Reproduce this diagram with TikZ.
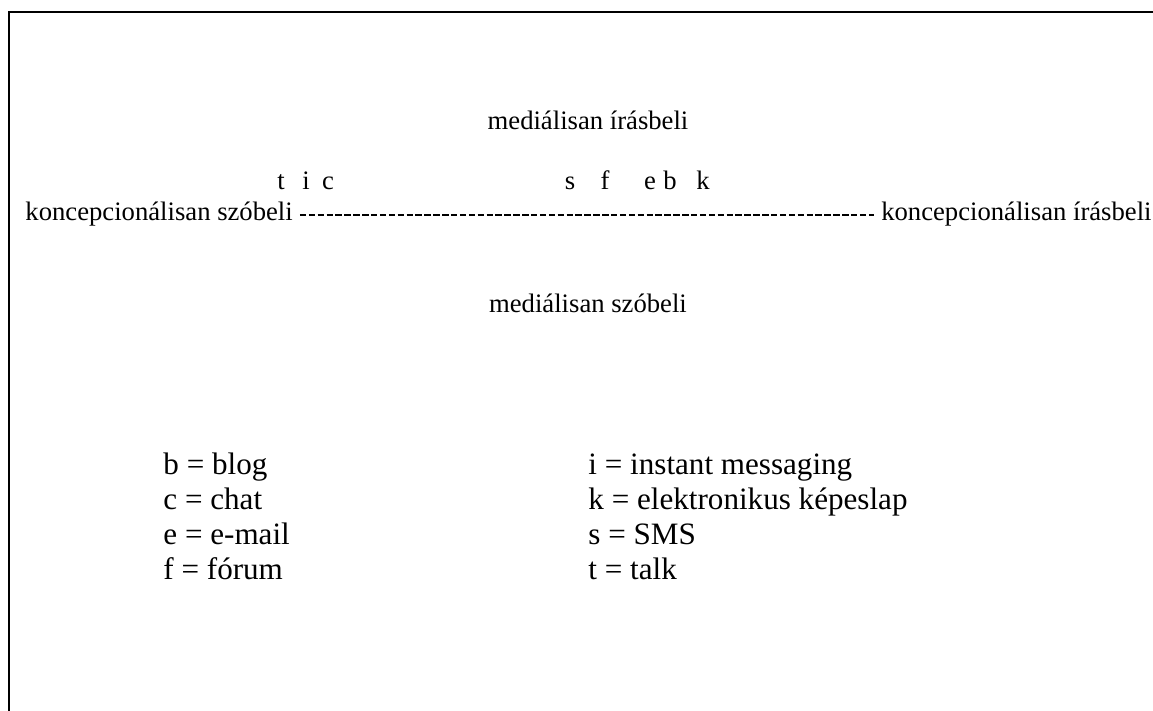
\documentclass[tikz,border=0pt]{standalone}
\usepackage{fontspec}
\setmainfont{Liberation Serif}
\begin{document}
\begin{tikzpicture}[x=0.45pt, y=-0.45pt,
 lbl/.style={inner sep=0pt, anchor=base, font=\fontsize{12}{14}\selectfont},
 leg/.style={inner sep=0pt, anchor=base west, font=\fontsize{14}{16}\selectfont}]

 \useasboundingbox (0,0) rectangle (1153,711);
 % frame (open at right and bottom)
 \draw[line width=0.9pt] (9,711) -- (9,12) -- (1153,12);

 % medial poles
 \node[lbl] (mi) at (588,130) {mediálisan írásbeli};
 \node[lbl] (msz) at (588,313) {mediálisan szóbeli};

 % conceptional axis
 \node[lbl, anchor=base west] (ksz) at (25,221) {koncepcionálisan szóbeli};
 \node[lbl, anchor=base east] (kir) at (1152,221) {koncepcionálisan írásbeli};
 \draw[line width=0.7pt, dash pattern=on 2.9pt off 1.1pt]
 ([xshift=3pt, yshift=2.6pt]ksz.base east) -- ([xshift=-3pt, yshift=2.6pt]kir.base west);

 % genres on the axis
 \foreach \g/\x in {t/281, i/306, c/328, s/570, f/605, e/650, b/670, k/703}
 \node[lbl] (g\g) at (\x,190) {\g};

 % legend
 \node[leg] (lb) at (163,475) {b = blog};
 \node[leg] (lc) at (163,510) {c = chat};
 \node[leg] (le) at (163,545) {e = e-mail};
 \node[leg] (lf) at (163,580) {f = fórum};
 \node[leg] (li) at (588,475) {i = instant messaging};
 \node[leg] (lk) at (588,510) {k = elektronikus képeslap};
 \node[leg] (ls) at (588,545) {s = SMS};
 \node[leg] (lt) at (588,580) {t = talk};
\end{tikzpicture}
\end{document}
